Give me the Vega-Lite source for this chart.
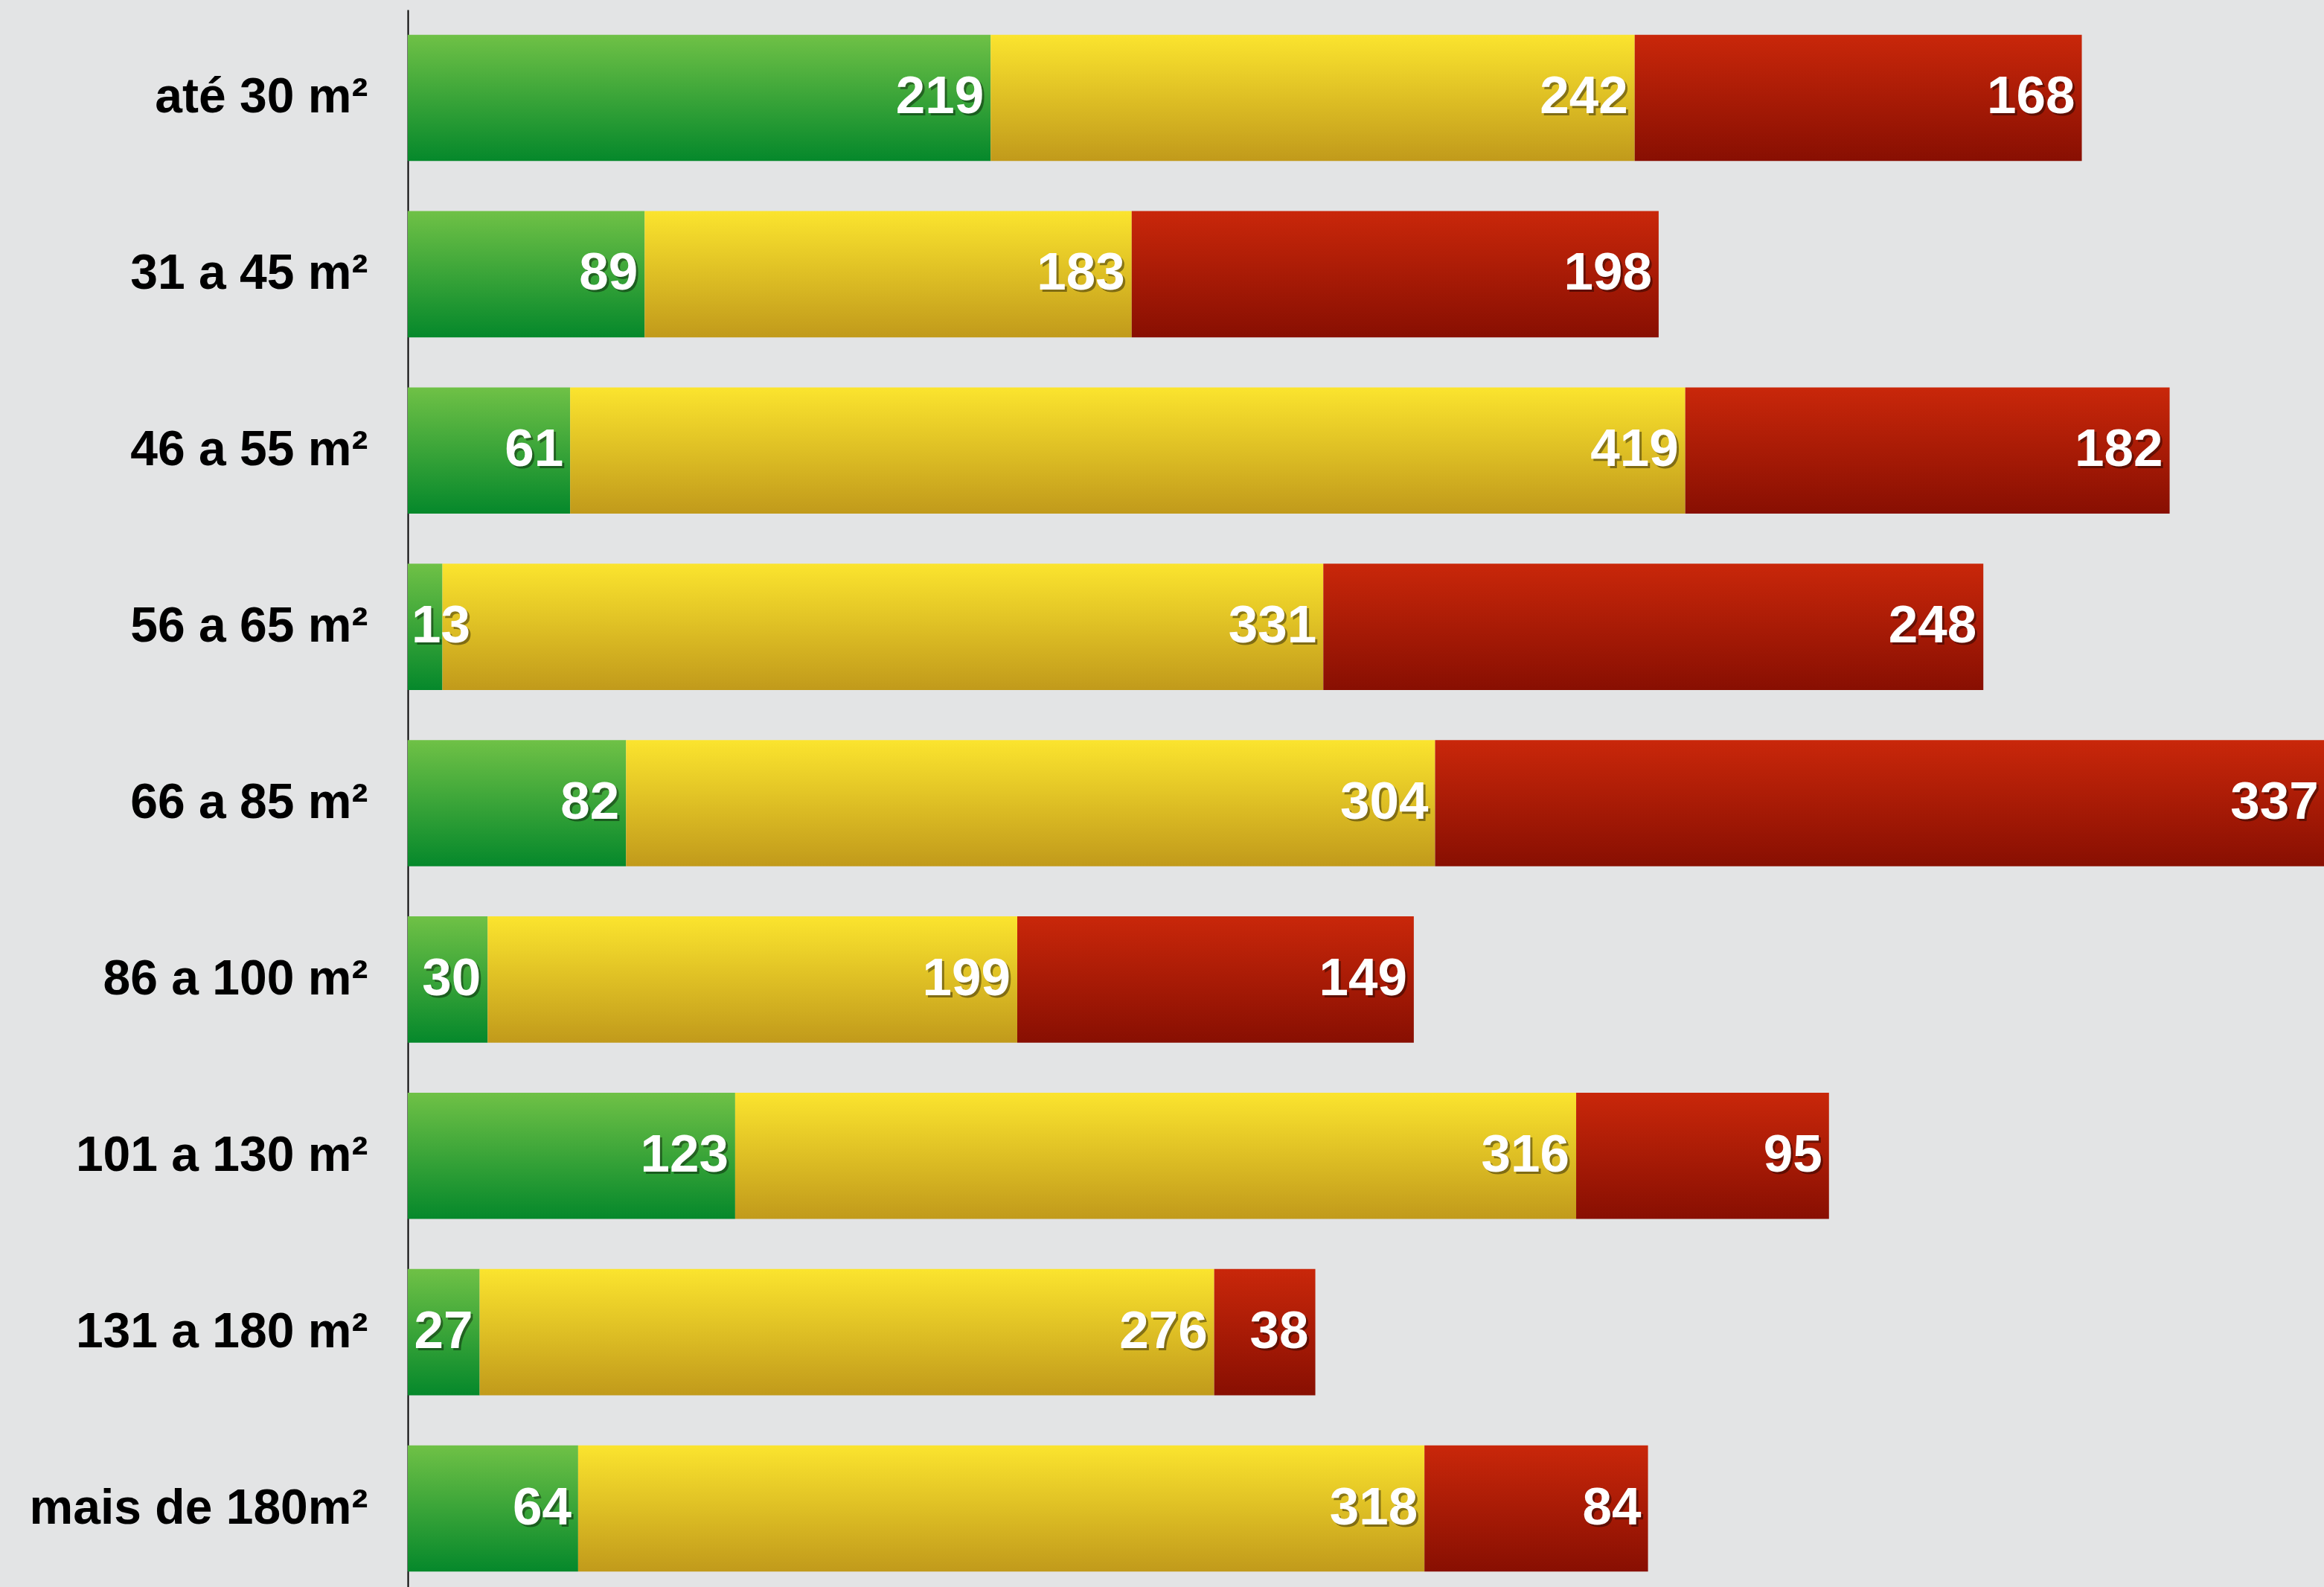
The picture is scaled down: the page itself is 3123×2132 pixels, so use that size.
{
  "$schema": "https://vega.github.io/schema/vega-lite/v6.json",
  "autosize": "none",
  "padding": {"left": 548, "top": 13, "right": 0, "bottom": 0},
  "width": 2575,
  "height": 2132,
  "background": "#e3e4e5",
  "config": {"view": {"stroke": null}},
  "data": {
    "values": [
      {"faixa": "até 30 m²", "serie": "verde", "ordem": 1, "valor": 219},
      {"faixa": "até 30 m²", "serie": "amarelo", "ordem": 2, "valor": 242},
      {"faixa": "até 30 m²", "serie": "vermelho", "ordem": 3, "valor": 168},
      {"faixa": "31 a 45 m²", "serie": "verde", "ordem": 1, "valor": 89},
      {"faixa": "31 a 45 m²", "serie": "amarelo", "ordem": 2, "valor": 183},
      {"faixa": "31 a 45 m²", "serie": "vermelho", "ordem": 3, "valor": 198},
      {"faixa": "46 a 55 m²", "serie": "verde", "ordem": 1, "valor": 61},
      {"faixa": "46 a 55 m²", "serie": "amarelo", "ordem": 2, "valor": 419},
      {"faixa": "46 a 55 m²", "serie": "vermelho", "ordem": 3, "valor": 182},
      {"faixa": "56 a 65 m²", "serie": "verde", "ordem": 1, "valor": 13},
      {"faixa": "56 a 65 m²", "serie": "amarelo", "ordem": 2, "valor": 331},
      {"faixa": "56 a 65 m²", "serie": "vermelho", "ordem": 3, "valor": 248},
      {"faixa": "66 a 85 m²", "serie": "verde", "ordem": 1, "valor": 82},
      {"faixa": "66 a 85 m²", "serie": "amarelo", "ordem": 2, "valor": 304},
      {"faixa": "66 a 85 m²", "serie": "vermelho", "ordem": 3, "valor": 337},
      {"faixa": "86 a 100 m²", "serie": "verde", "ordem": 1, "valor": 30},
      {"faixa": "86 a 100 m²", "serie": "amarelo", "ordem": 2, "valor": 199},
      {"faixa": "86 a 100 m²", "serie": "vermelho", "ordem": 3, "valor": 149},
      {"faixa": "101 a 130 m²", "serie": "verde", "ordem": 1, "valor": 123},
      {"faixa": "101 a 130 m²", "serie": "amarelo", "ordem": 2, "valor": 316},
      {"faixa": "101 a 130 m²", "serie": "vermelho", "ordem": 3, "valor": 95},
      {"faixa": "131 a 180 m²", "serie": "verde", "ordem": 1, "valor": 27},
      {"faixa": "131 a 180 m²", "serie": "amarelo", "ordem": 2, "valor": 276},
      {"faixa": "131 a 180 m²", "serie": "vermelho", "ordem": 3, "valor": 38},
      {"faixa": "mais de 180m²", "serie": "verde", "ordem": 1, "valor": 64},
      {"faixa": "mais de 180m²", "serie": "amarelo", "ordem": 2, "valor": 318},
      {"faixa": "mais de 180m²", "serie": "vermelho", "ordem": 3, "valor": 84}
    ]
  },
  "transform": [
    {"stack": "valor", "groupby": ["faixa"], "sort": [{"field": "ordem", "order": "ascending"}], "as": ["x0", "x1"]},
    {"calculate": "min(max(datum.x1, 26), 720.5)", "as": "lx"}
  ],
  "encoding": {
    "y": {
      "field": "faixa",
      "type": "nominal",
      "sort": null,
      "scale": {"paddingInner": 0.284, "paddingOuter": 0.142},
      "axis": {
        "title": null,
        "ticks": false,
        "domain": true,
        "domainColor": "#000000",
        "domainWidth": 2,
        "labelFont": "Liberation Sans",
        "labelFontWeight": "bold",
        "labelFontSize": 66,
        "labelColor": "#000000",
        "labelPadding": 54,
        "labelLimit": 600,
        "grid": false
      }
    }
  },
  "layer": [
    {
      "mark": {"type": "bar", "clip": true},
      "encoding": {
        "x": {"field": "x0", "type": "quantitative", "scale": {"domain": [0, 720], "nice": false, "zero": true}, "axis": null},
        "x2": {"field": "x1"},
        "fill": {
          "condition": [
            {"test": "datum.serie === 'verde'", "value": {"gradient": "linear", "x1": 0, "y1": 0, "x2": 0, "y2": 1, "stops": [{"offset": 0, "color": "#6fc146"}, {"offset": 1, "color": "#05882b"}]}},
            {"test": "datum.serie === 'amarelo'", "value": {"gradient": "linear", "x1": 0, "y1": 0, "x2": 0, "y2": 1, "stops": [{"offset": 0, "color": "#fbe42e"}, {"offset": 1, "color": "#c19a1b"}]}}
          ],
          "value": {"gradient": "linear", "x1": 0, "y1": 0, "x2": 0, "y2": 1, "stops": [{"offset": 0, "color": "#c9270a"}, {"offset": 1, "color": "#880f02"}]}
        }
      }
    },
    {
      "mark": {"type": "text", "align": "right", "baseline": "middle", "dx": -6, "dy": 3, "font": "Liberation Sans", "fontWeight": "bold", "fontSize": 71, "color": "#000000", "opacity": 0.4},
      "encoding": {
        "x": {"field": "lx", "type": "quantitative"},
        "text": {"field": "valor", "type": "quantitative"}
      }
    },
    {
      "mark": {"type": "text", "align": "right", "baseline": "middle", "dx": -9, "dy": 0, "font": "Liberation Sans", "fontWeight": "bold", "fontSize": 71, "color": "#ffffff"},
      "encoding": {
        "x": {"field": "lx", "type": "quantitative"},
        "text": {"field": "valor", "type": "quantitative"}
      }
    }
  ]
}
